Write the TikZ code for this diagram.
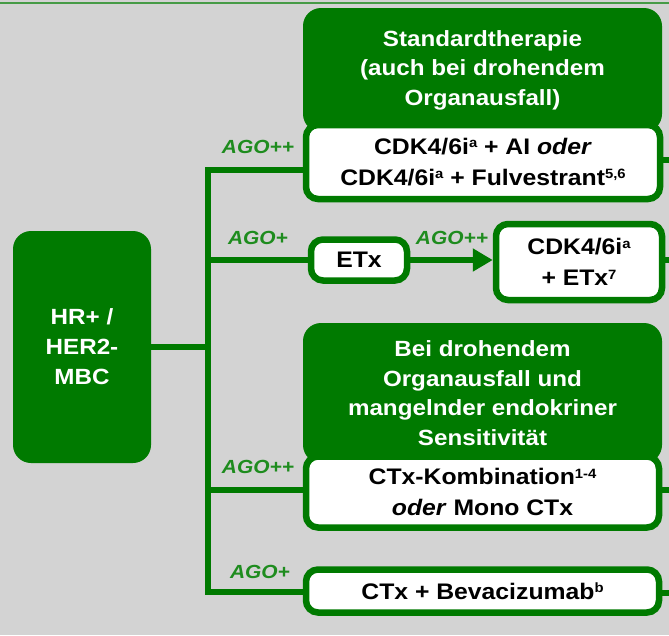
\documentclass[tikz,border=0pt]{standalone}
\usepackage{fontspec}
\setmainfont{Liberation Sans}[FakeStretch=1.1]
\usetikzlibrary{arrows.meta}
\definecolor{bgc}{RGB}{211,211,211}
\definecolor{dg}{RGB}{0,122,0}
\definecolor{lg}{RGB}{30,140,30}
\definecolor{tl}{RGB}{70,155,70}
\newcommand\sps[1]{\raisebox{0.55ex}{\fontsize{13.5}{13.5}\selectfont #1}}
\tikzset{
  hdr/.style={fill=dg, rounded corners=18pt, text=white, align=center, inner sep=0pt,
    font=\fontsize{22}{29.5}\selectfont\bfseries},
  wbox/.style={fill=white, draw=dg, line width=6.5pt, rounded corners=12pt, align=center, inner sep=0pt,
    font=\fontsize{22.5}{31}\selectfont\bfseries, text=black},
  hrbox/.style={fill=dg, rounded corners=18pt, text=white, align=center, inner sep=0pt,
    font=\fontsize{22}{30}\selectfont\bfseries},
  conn/.style={draw=dg, line width=5.5pt},
  ago/.style={text=lg, font=\fontsize{19}{19}\selectfont\bfseries\itshape, inner sep=0pt}
}
\begin{document}
\begin{tikzpicture}[x=1pt,y=-1pt]
\fill[bgc] (0,0) rectangle (669,635);
\useasboundingbox (0,0) rectangle (669,635);
\draw[tl, line width=2.5pt] (0,3) -- (669,3);
% left box
\node[hrbox, minimum width=138pt, minimum height=232pt] (hr) at (82,347) {HR+ /\\HER2-\\MBC};
% headers
\node[hdr, minimum width=359pt, minimum height=124pt] (h1) at (482.5,70) {Standardtherapie\\(auch bei drohendem\\Organausfall)};
\node[hdr, minimum width=359pt, minimum height=140pt] (h2) at (482.5,393) {Bei drohendem\\Organausfall und\\mangelnder endokriner\\Sensitivität};
% white boxes
\node[wbox, minimum width=354pt, minimum height=74pt] (w1) at (483,162) {CDK4/6i\sps{a} + AI \textit{oder}\\CDK4/6i\sps{a} + Fulvestrant\sps{5,6}};
\node[wbox, minimum width=96pt, minimum height=41pt] (etx) at (359,260) {ETx};
\node[wbox, minimum width=166pt, minimum height=76pt] (cdk) at (579,262) {CDK4/6i\sps{a}\\+ ETx\sps{7}};
\node[wbox, minimum width=353pt, minimum height=71pt] (w2) at (482.5,492) {CTx-Kombination\sps{1-4}\\\textit{oder} Mono CTx};
\node[wbox, minimum width=353pt, minimum height=43pt] (w3) at (482.5,591) {CTx + Bevacizumab\sps{b}};
% trunk coordinates
\coordinate (t1) at (208,170);
\coordinate (t2) at (208,260);
\coordinate (t3) at (208,490);
\coordinate (t4) at (208,592);
\coordinate (r1) at (669,160);
\coordinate (r2) at (669,260);
\coordinate (r3) at (669,490);
\coordinate (r4) at (669,593);
\draw[conn] (hr.east) -- (hr.east -| t1);
\draw[conn, line join=miter] (w1.west |- t1) -- (t1) -- (t4) -- (w3.west |- t4);
\draw[conn] (t2) -- (etx.west);
\draw[conn] (t3) -- (w2.west |- t3);
\draw[conn, -{Triangle[length=20pt,width=22pt]}] (etx.east) -- (cdk.west |- etx.east);
\draw[conn] (w1.east |- r1) -- (r1);
\draw[conn] (cdk.east |- r2) -- (r2);
\draw[conn] (w2.east |- r3) -- (r3);
\draw[conn] (w3.east |- r4) -- (r4);
% labels
\node[ago] (l1) at (258,147) {AGO++};
\node[ago] (l2) at (258,238) {AGO+};
\node[ago] (l3) at (452,238) {AGO++};
\node[ago] (l4) at (258,467) {AGO++};
\node[ago] (l5) at (260,572) {AGO+};
\end{tikzpicture}
\end{document}
